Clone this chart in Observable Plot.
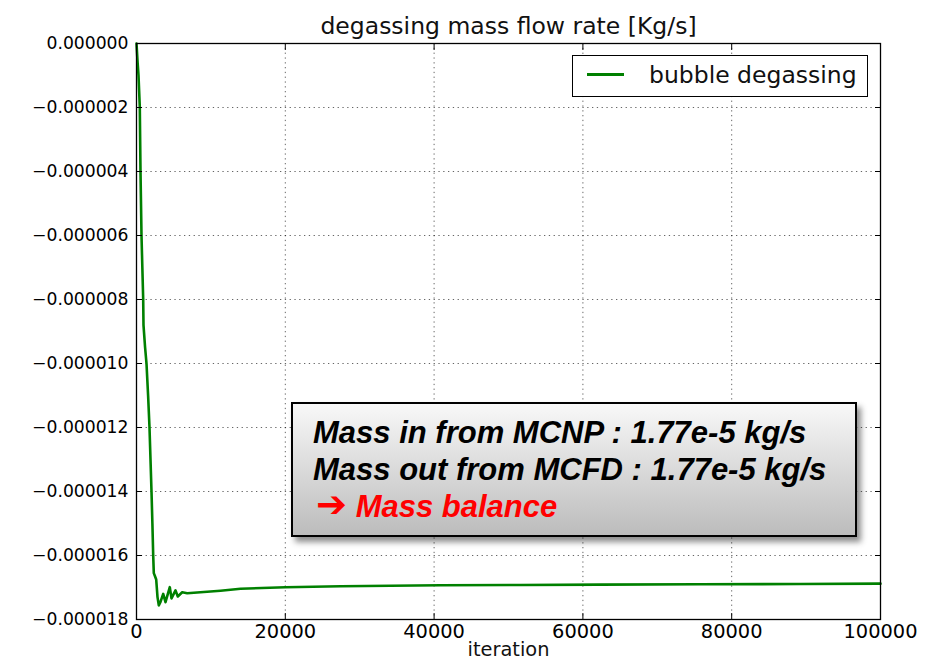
<!DOCTYPE html>
<html>
<head>
<meta charset="utf-8">
<script src="https://cdn.jsdelivr.net/npm/d3@7"></script>
<script src="https://cdn.jsdelivr.net/npm/@observablehq/plot@0.6"></script>
<style>
  body { margin: 0; background: #fff; }
  #wrap { position: relative; width: 930px; height: 665px; overflow: hidden; }
  #legend {
    position: absolute; left: 572px; top: 55px; width: 296px; height: 42px;
    box-sizing: border-box; border: 1.5px solid #000; background: #fff;
    font-family: "DejaVu Sans", sans-serif; font-size: 23.5px; color: #111;
  }
  #legend .swatch { position: absolute; left: 14px; top: 17px; width: 37px; height: 0; border-top: 3px solid #008000; }
  #legend .label { position: absolute; left: 76px; top: 0; line-height: 38px; white-space: nowrap; }
  #note {
    position: absolute; left: 291px; top: 402px; width: 566px; height: 135px;
    box-sizing: border-box; border: 2px solid #000;
    background: linear-gradient(to bottom, #f8f8f8, #bcbcbc);
    box-shadow: 4px 5px 6px rgba(0,0,0,0.45);
    padding: 10px 0 0 20px;
    font-family: "Liberation Sans", Arial, sans-serif; font-weight: bold; font-style: italic;
    font-size: 31px; line-height: 37px; color: #000; white-space: nowrap;
  }
  #note .red { color: #ff0000; }
  #note .arrow { font-family: "DejaVu Sans", sans-serif; font-style: normal; font-weight: bold; font-size: 37px; line-height: 0; margin-left: 3px; }
</style>
</head>
<body>
<div id="wrap"></div>
<script>
// ---- data ----
const iterations = [0, 150, 270, 444, 490, 538, 605, 672, 786, 900, 940, 1156, 1344, 1560, 1747, 1882, 2016, 2137, 2245, 2325, 2487, 2648, 2823, 2997, 3226, 3589, 3898, 4476, 4704, 5242, 5551, 6142, 6815, 8600, 11290, 13978, 20027, 27420, 40860, 51600, 62365, 75800, 89250, 100000];
const flowRate = [0, -0.6e-6, -1.0e-6, -2.0e-6, -3.0e-6, -4.0e-6, -5.0e-6, -6.0e-6, -7.0e-6, -8.0e-6, -8.8e-6, -9.5e-6, -10.0e-6, -11.0e-6, -12.0e-6, -13.0e-6, -14.0e-6, -15.0e-6, -16.0e-6, -16.55e-6, -16.65e-6, -16.75e-6, -17.3e-6, -17.56e-6, -17.45e-6, -17.2e-6, -17.46e-6, -16.99e-6, -17.34e-6, -17.09e-6, -17.28e-6, -17.15e-6, -17.18e-6, -17.15e-6, -17.1e-6, -17.04e-6, -16.99e-6, -16.96e-6, -16.93e-6, -16.92e-6, -16.91e-6, -16.9e-6, -16.89e-6, -16.88e-6];
const xTicks = [0, 20000, 40000, 60000, 80000, 100000];
const yTicks = [0, -0.000002, -0.000004, -0.000006, -0.000008, -0.00001, -0.000012, -0.000014, -0.000016, -0.000018];
const seriesName = "bubble degassing";
const titleText = "degassing mass flow rate [Kg/s]";
const xLabelText = "iteration";
const noteLine1 = "Mass in from MCNP : 1.77e-5 kg/s";
const noteLine2 = "Mass out from MCFD : 1.77e-5 kg/s";
const noteLine3 = "Mass balance";

const data = iterations.map((x, i) => ({iteration: x, rate: flowRate[i]}));
const yFmt = d3.format(".6f");
const blank = () => "";
const gridStyle = {stroke: "#000", strokeOpacity: 0.6, strokeDasharray: "1.3,3.5", strokeWidth: 1};

const chart = Plot.plot({
  width: 930, height: 665,
  marginLeft: 136, marginRight: 50, marginTop: 43, marginBottom: 46,
  style: {fontFamily: "DejaVu Sans, sans-serif", background: "#fff", color: "#000"},
  x: {domain: [0, 100000]},
  y: {domain: [-0.000018, 0]},
  marks: [
    Plot.gridX(xTicks, gridStyle),
    Plot.gridY(yTicks, gridStyle),
    Plot.line(data, {x: "iteration", y: "rate", stroke: "#008000", strokeWidth: 2.6}),
    Plot.frame({stroke: "#000", strokeWidth: 1.3}),
    Plot.axisX(xTicks, {anchor: "bottom", tickSize: -6, tickPadding: 11, fontSize: 19.4, label: null, tickFormat: d3.format("d")}),
    Plot.axisX(xTicks, {anchor: "top", tickSize: -6, tickFormat: blank, label: null}),
    Plot.axisY(yTicks, {anchor: "left", tickSize: -6, tickPadding: 14, fontSize: 17.2, label: null, tickFormat: yFmt}),
    Plot.axisY(yTicks, {anchor: "right", tickSize: -6, tickFormat: blank, label: null}),
    Plot.text([titleText], {text: d => d, frameAnchor: "top", dy: -26, fontSize: 23.5, fill: "#111"}),
    Plot.text([xLabelText], {text: d => d, frameAnchor: "bottom", dy: 36, fontSize: 19.4, fill: "#111"})
  ]
});

const wrap = document.getElementById("wrap");
wrap.appendChild(chart);

const legend = document.createElement("div");
legend.id = "legend";
legend.innerHTML = `<div class="swatch"></div><div class="label"></div>`;
legend.querySelector(".label").textContent = seriesName;
wrap.appendChild(legend);

const note = document.createElement("div");
note.id = "note";
const l1 = document.createElement("div"); l1.textContent = noteLine1;
const l2 = document.createElement("div"); l2.textContent = noteLine2;
const l3 = document.createElement("div"); l3.className = "red";
l3.innerHTML = `<span class="arrow">\u2794</span> <span class="txt"></span>`;
l3.querySelector(".txt").textContent = noteLine3;
note.append(l1, l2, l3);
wrap.appendChild(note);
</script>
</body>
</html>
